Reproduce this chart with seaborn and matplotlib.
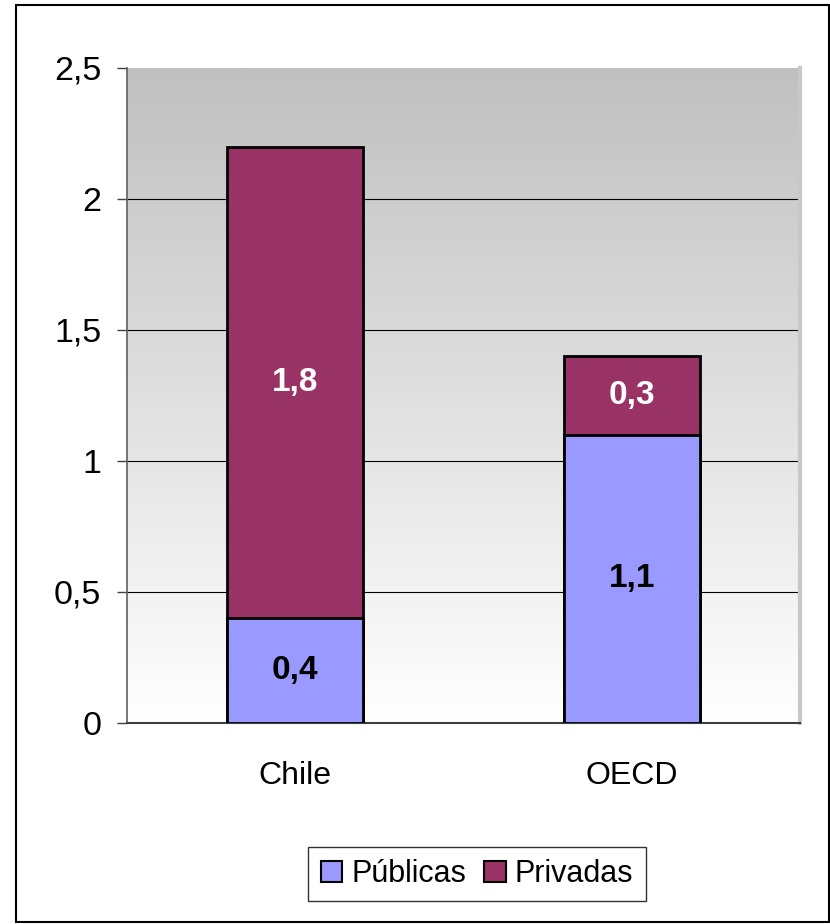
import numpy as np
import pandas as pd
import matplotlib
matplotlib.use("Agg")
import matplotlib.pyplot as plt
import matplotlib.patches as mpatches
import seaborn as sns

categories = ["Chile", "OECD"]
publicas = [0.4, 1.1]
privadas = [1.8, 0.3]
yticks = [0, 0.5, 1, 1.5, 2, 2.5]
ytick_labels = ["0", "0,5", "1", "1,5", "2", "2,5"]
series_names = ["Públicas", "Privadas"]

col_pub = "#9999FF"
col_priv = "#993366"

sns.set_theme(style="white")
plt.rcParams["font.family"] = ["Liberation Sans", "DejaVu Sans"]
plt.rcParams["text.color"] = "black"
plt.rcParams["xtick.labelcolor"] = "black"
plt.rcParams["ytick.labelcolor"] = "black"

fig = plt.figure(figsize=(8.3, 9.24), dpi=100)
ax = fig.add_axes([127/830, 1-723/924, (800-127)/830, (723-68)/924])

# gradient background
grad = np.linspace(0, 1, 256).reshape(-1, 1)
ax.imshow(grad, extent=[-0.5, 1.5, 0, 2.5], aspect="auto",
          cmap=matplotlib.colors.LinearSegmentedColormap.from_list("g", ["#FFFFFF", "#C0C0C0"]),
          origin="lower", zorder=0)

for y in [0.5, 1, 1.5, 2]:
    ax.axhline(y, color="black", lw=0.8, zorder=1)

totals = [a + b for a, b in zip(publicas, privadas)]
df = pd.DataFrame({"cat": categories, "pub": publicas, "priv": privadas, "tot": totals})

sns.barplot(data=df, x="cat", y="tot", color=col_priv, saturation=1, width=0.404,
            edgecolor="black", linewidth=2, ax=ax, zorder=2)
sns.barplot(data=df, x="cat", y="pub", color=col_pub, saturation=1, width=0.404,
            edgecolor="black", linewidth=2, ax=ax, zorder=3)

for i in range(len(categories)):
    ax.text(i, publicas[i] / 2, f"{publicas[i]:.1f}".replace(".", ","), ha="center", va="center",
            fontsize=24, fontweight="bold", color="black", zorder=5)
    ax.text(i, publicas[i] + privadas[i] / 2, f"{privadas[i]:.1f}".replace(".", ","), ha="center",
            va="center", fontsize=24, fontweight="bold", color="white", zorder=5)

ax.set_xlim(-0.5, 1.5)
ax.set_ylim(0, 2.5)
ax.set_yticks(yticks)
ax.set_yticklabels(ytick_labels, fontsize=24.5)
ax.set_xticks([0, 1])
ax.set_xticklabels(categories, fontsize=23)
ax.set_xticks([-0.5, 0.5, 1.5], minor=True)
ax.tick_params(axis="x", which="major", length=0, pad=27)
ax.tick_params(axis="x", which="minor", length=7, width=1, color="#404040", direction="out")
ax.tick_params(axis="y", length=7, width=1, color="#404040", direction="out", left=True, pad=11.5)
ax.set_xlabel("")
ax.set_ylabel("")

ax.spines["top"].set_visible(False)
ax.spines["right"].set_color("#C8C8C8")
ax.spines["right"].set_linewidth(3)
ax.spines["left"].set_color("#606060")
ax.spines["left"].set_linewidth(1.2)
ax.spines["bottom"].set_color("#404040")
ax.spines["bottom"].set_linewidth(1.5)

handles = [mpatches.Patch(facecolor=col_pub, edgecolor="black", linewidth=1.5, label=series_names[0]),
           mpatches.Patch(facecolor=col_priv, edgecolor="black", linewidth=1.5, label=series_names[1])]
leg = fig.legend(handles=handles, loc="center", bbox_to_anchor=(477/830, 1-874/924), ncol=2,
                 fontsize=22, frameon=True, fancybox=False, edgecolor="black",
                 handlelength=0.7, handleheight=0.7, handletextpad=0.3, columnspacing=0.6,
                 borderpad=0.4)
leg.get_frame().set_linewidth(1)

fig.patches.append(mpatches.Rectangle((16/830, 1-922/924), (829-16)/830, (922-5)/924,
                                      transform=fig.transFigure, fill=False, edgecolor="black",
                                      linewidth=1.5))

fig.savefig("out.png", dpi=100)
